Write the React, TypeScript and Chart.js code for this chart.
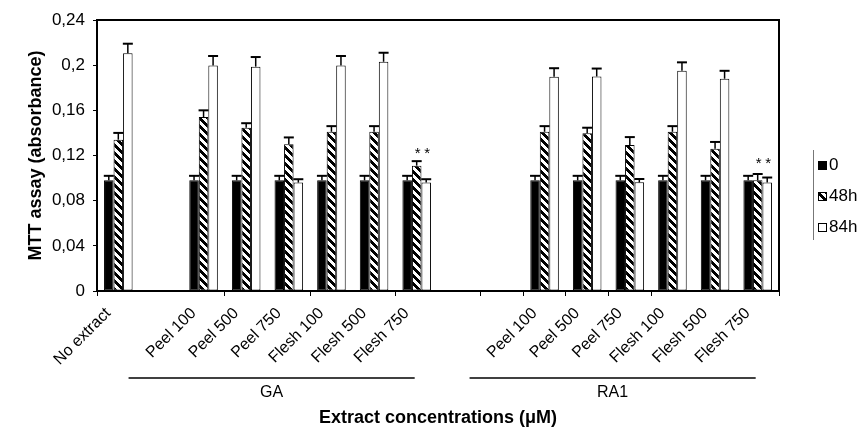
import React, { useEffect, useRef } from "react";
import { Chart, registerables } from "chart.js";
Chart.register(...registerables);

const categories = [
  "No extract", "", "Peel 100", "Peel 500", "Peel 750", "Flesh 100", "Flesh 500", "Flesh 750",
  "", "", "Peel 100", "Peel 500", "Peel 750", "Flesh 100", "Flesh 500", "Flesh 750",
];
const seriesLabels = ["0", "48h", "84h"];

const values0 = [0.098, null, 0.098, 0.098, 0.098, 0.098, 0.098, 0.098, null, null, 0.098, 0.098, 0.098, 0.098, 0.098, 0.098];
const errors0 = [0.004, null, 0.004, 0.004, 0.004, 0.004, 0.004, 0.004, null, null, 0.004, 0.004, 0.004, 0.004, 0.004, 0.004];

const values48 = [0.134, null, 0.154, 0.1446, 0.13, 0.141, 0.141, 0.111, null, null, 0.141, 0.1396, 0.1293, 0.141, 0.126, 0.098];
const errors48 = [0.006, null, 0.006, 0.004, 0.006, 0.005, 0.005, 0.004, null, null, 0.005, 0.005, 0.007, 0.005, 0.006, 0.0056];

const values84 = [0.2105, null, 0.1996, 0.1987, 0.096, 0.1996, 0.203, 0.096, null, null, 0.1898, 0.19, 0.0962, 0.195, 0.188, 0.096];
const errors84 = [0.0085, null, 0.0085, 0.0085, 0.003, 0.0085, 0.008, 0.003, null, null, 0.0075, 0.007, 0.003, 0.0075, 0.007, 0.0045];

const yTickLabels = ["0", "0,04", "0,08", "0,12", "0,16", "0,2", "0,24"];

const groupNames = ["GA", "RA1"];
const groupFirst = [2, 10];
const groupLast = [7, 15];

const starCategories = [7, 15];
const starValues = [0.124, 0.115];

const xTickBoundaries = [0, 3, 5, 7, 9, 10, 11, 12, 13, 16];

const FONT = "'Liberation Sans', Arial, sans-serif";

function makeHatch(): CanvasPattern | string {
  const c = document.createElement("canvas");
  c.width = 8;
  c.height = 8;
  const ctx = c.getContext("2d");
  if (!ctx) return "#888";
  const img = ctx.createImageData(8, 8);
  for (let y = 0; y < 8; y++) {
    for (let x = 0; x < 8; x++) {
      const k = (((x - y) % 8) + 8) % 8;
      const black = k < 4;
      const i = (y * 8 + x) * 4;
      img.data[i] = black ? 0 : 255;
      img.data[i + 1] = black ? 0 : 255;
      img.data[i + 2] = black ? 0 : 255;
      img.data[i + 3] = 255;
    }
  }
  ctx.putImageData(img, 0, 0);
  const p = ctx.createPattern(c, "repeat");
  return p || "#888";
}

const errorArrays = [errors0, errors48, errors84];

const extrasPlugin = {
  id: "extras",
  afterDatasetsDraw(chart: any) {
    const ctx = chart.ctx;
    const yScale = chart.scales.y;
    const area = chart.chartArea;
    ctx.save();
    // error bars
    ctx.strokeStyle = "#000";
    chart.data.datasets.forEach((ds: any, di: number) => {
      const meta = chart.getDatasetMeta(di);
      meta.data.forEach((el: any, j: number) => {
        const v = ds.data[j];
        const e = errorArrays[di][j];
        if (v == null || e == null) return;
        const yTop = yScale.getPixelForValue(v);
        const yCap = yScale.getPixelForValue(v + e);
        ctx.lineWidth = 1.5;
        ctx.beginPath();
        ctx.moveTo(el.x, yTop);
        ctx.lineTo(el.x, yCap);
        ctx.stroke();
        ctx.lineWidth = 2;
        ctx.beginPath();
        ctx.moveTo(el.x - 5, yCap);
        ctx.lineTo(el.x + 5, yCap);
        ctx.stroke();
      });
    });
    // asterisks above 48h and 84h bars
    ctx.fillStyle = "#000";
    ctx.font = `15px ${FONT}`;
    ctx.textAlign = "center";
    ctx.textBaseline = "middle";
    starCategories.forEach((cat, k) => {
      const y = yScale.getPixelForValue(starValues[k]);
      [1, 2].forEach((di) => {
        const el = chart.getDatasetMeta(di).data[cat];
        ctx.fillText("*", el.x + 1, y + 3);
      });
    });
    // frame (top & right)
    ctx.lineWidth = 2;
    ctx.beginPath();
    ctx.moveTo(area.left, area.top);
    ctx.lineTo(area.right, area.top);
    ctx.lineTo(area.right, area.bottom);
    ctx.stroke();
    ctx.restore();
  },
  afterDraw(chart: any) {
    const ctx = chart.ctx;
    const xScale = chart.scales.x;
    const area = chart.chartArea;
    ctx.save();
    // group brackets
    ctx.strokeStyle = "#000";
    ctx.fillStyle = "#000";
    ctx.lineWidth = 1.5;
    ctx.font = `16px ${FONT}`;
    ctx.textAlign = "center";
    ctx.textBaseline = "middle";
    groupNames.forEach((name, g) => {
      const x0 = xScale.getPixelForValue(groupFirst[g]) - 75;
      const x1 = xScale.getPixelForValue(groupLast[g]) - 2;
      const y = area.bottom + 87;
      ctx.beginPath();
      ctx.moveTo(x0, y);
      ctx.lineTo(x1, y);
      ctx.stroke();
      ctx.fillText(name, (x0 + x1) / 2, y + 15);
    });
    // legend
    const lx = area.right + 34;
    const ly = area.top + 130;
    ctx.strokeStyle = "#777";
    ctx.lineWidth = 1;
    ctx.beginPath();
    ctx.moveTo(lx + 0.5, ly);
    ctx.lineTo(lx + 0.5, ly + 90);
    ctx.stroke();
    ctx.textAlign = "left";
    ctx.font = `17px ${FONT}`;
    chart.data.datasets.forEach((ds: any, i: number) => {
      const cy = ly + 15 + i * 31;
      ctx.fillStyle = ds.backgroundColor;
      ctx.fillRect(lx + 5, cy - 4, 9, 9);
      ctx.strokeStyle = "#000";
      ctx.lineWidth = 1;
      ctx.strokeRect(lx + 5.5, cy - 3.5, 8, 8);
      ctx.fillStyle = "#000";
      ctx.fillText(ds.label, lx + 16, cy);
    });
    ctx.restore();
  },
};

export default function App() {
  const ref = useRef<HTMLCanvasElement>(null);
  useEffect(() => {
    if (!ref.current) return;
    const hatch = makeHatch();
    const common = {
      borderColor: "#000",
      borderWidth: 1,
      borderSkipped: false,
      categoryPercentage: 0.67,
      barPercentage: 1.0,
    };
    const chart = new Chart(ref.current, {
      type: "bar",
      data: {
        labels: categories,
        datasets: [
          { label: seriesLabels[0], data: values0, backgroundColor: "#000", ...common },
          { label: seriesLabels[1], data: values48, backgroundColor: hatch as any, ...common },
          { label: seriesLabels[2], data: values84, backgroundColor: "#fff", ...common },
        ] as any,
      },
      options: {
        animation: false,
        responsive: false,
        devicePixelRatio: 1,
        layout: { padding: { left: 0, right: 82, top: 20, bottom: 0 } },
        plugins: { legend: { display: false }, tooltip: { enabled: false } },
        scales: {
          x: {
            offset: true,
            grid: {
              display: true,
              offset: true,
              drawOnChartArea: false,
              drawTicks: true,
              tickLength: 5,
              tickWidth: 1,
              tickColor: (c: any) => {
                const i = c.index === undefined ? categories.length : c.index;
                return xTickBoundaries.includes(i) ? "#000" : "rgba(0,0,0,0)";
              },
            },
            border: { display: true, color: "#000", width: 2 },
            ticks: {
              autoSkip: false,
              minRotation: 45,
              maxRotation: 45,
              labelOffset: -10,
              padding: 8,
              color: "#000",
              font: { family: FONT, size: 16 },
            },
            title: {
              display: true,
              text: "Extract concentrations (\u03bcM)",
              color: "#000",
              font: { family: FONT, size: 18, weight: "bold" },
              padding: { top: 0, bottom: 0 },
            },
            afterFit: (s: any) => {
              s.height = 138;
            },
          },
          y: {
            min: 0,
            max: 0.24,
            ticks: {
              stepSize: 0.04,
              padding: 8,
              color: "#000",
              font: { family: FONT, size: 17 },
              callback: (_v: any, i: number) => yTickLabels[i],
            },
            grid: {
              display: true,
              drawOnChartArea: false,
              drawTicks: true,
              tickLength: 4,
              tickColor: "#000",
            },
            border: { display: true, color: "#000", width: 2 },
            title: {
              display: true,
              text: "MTT assay (absorbance)",
              color: "#000",
              font: { family: FONT, size: 18, weight: "bold" },
              padding: { top: 25, bottom: 0 },
            },
            afterFit: (s: any) => {
              s.width = 97;
            },
          },
        },
      } as any,
      plugins: [extrasPlugin],
    });
    return () => chart.destroy();
  }, []);
  return (
    <div style={{ position: "absolute", left: 0, top: 0, width: 861, height: 429, overflow: "hidden", background: "#fff" }}>
      <canvas ref={ref} width={861} height={429} style={{ display: "block" }} />
    </div>
  );
}
